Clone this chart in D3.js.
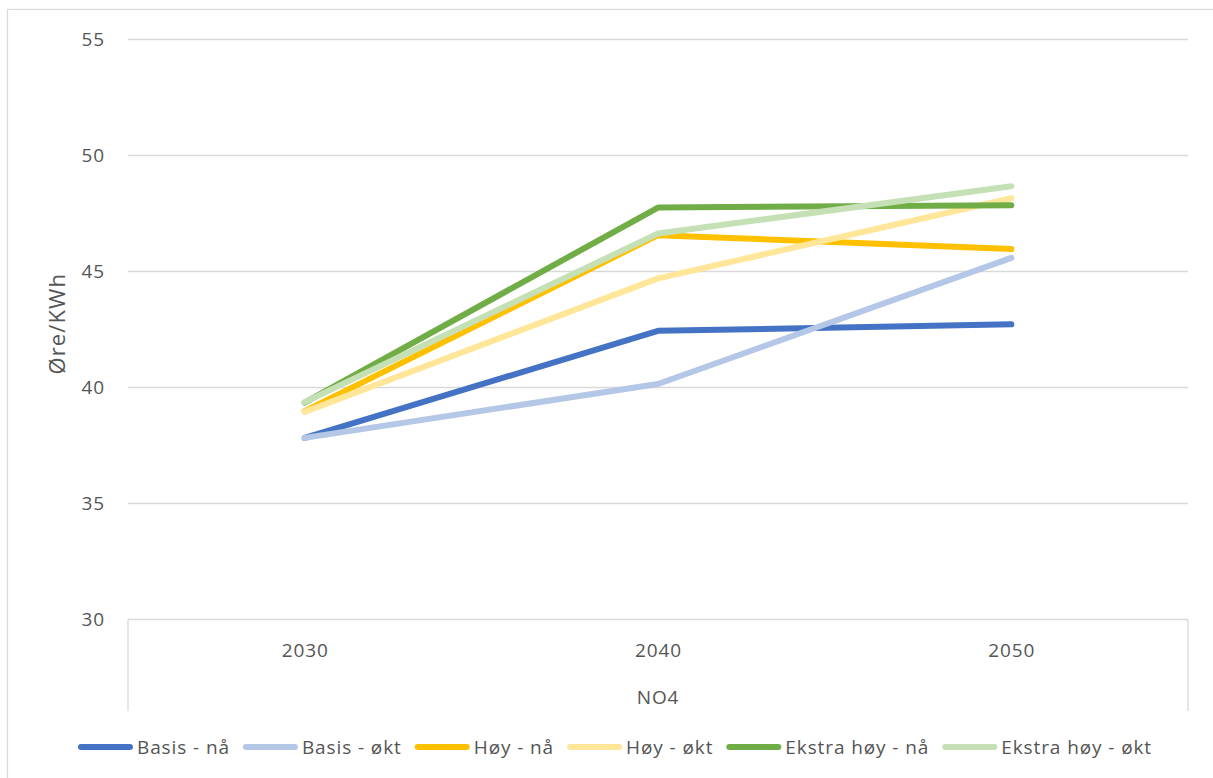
<!DOCTYPE html>
<html>
<head>
<meta charset="utf-8">
<script src="https://cdn.jsdelivr.net/npm/d3@7"></script>
<style>
  html, body { margin: 0; padding: 0; background: #fff; }
  svg { display: block; }
  text { font-family: "Open Sans", sans-serif; fill: #555555; }
</style>
</head>
<body>
<svg id="chart" width="1213" height="778"></svg>
<script>
// Price scenarios for NO4, øre/kWh
const years = ["2030", "2040", "2050"];
const seriesNames = ["Basis - nå", "Basis - økt", "Høy - nå", "Høy - økt", "Ekstra høy - nå", "Ekstra høy - økt"];
const basisNa = [37.8, 42.41, 42.69];
const basisOkt = [37.8, 40.12, 45.55];
const hoyNa = [38.95, 46.53, 45.93];
const hoyOkt = [38.92, 44.67, 48.12];
const ekstraHoyNa = [39.32, 47.72, 47.82];
const ekstraHoyOkt = [39.34, 46.6, 48.64];
const seriesColors = ["#4472C4", "#B4C7E7", "#FFC000", "#FFE699", "#70AD47", "#C5E0B4"];
const yTicks = [30, 35, 40, 45, 50, 55];
const groupLabel = "NO4";
const yTitle = "Øre/KWh";

const seriesValues = [basisNa, basisOkt, hoyNa, hoyOkt, ekstraHoyNa, ekstraHoyOkt];
const series = seriesNames.map((name, i) => ({ name, color: seriesColors[i], values: seriesValues[i] }));

const svg = d3.select("#chart");
const plot = { left: 128, right: 1188, top: 38.5, bottom: 619 };
const fontSize = 19;
const spacing = 0.9;

// outer chart border
svg.append("rect")
  .attr("x", 7.5).attr("y", 9.5)
  .attr("width", 1212).attr("height", 775)
  .attr("fill", "none").attr("stroke", "#d9d9d9").attr("stroke-width", 1.2);

const x = d3.scalePoint().domain(years).range([plot.left, plot.right]).padding(0.5);
const y = d3.scaleLinear().domain([30, 55]).range([plot.bottom, plot.top]);

// horizontal gridlines
svg.append("g")
  .selectAll("line")
  .data(yTicks.filter(t => t > 30))
  .join("line")
  .attr("x1", plot.left).attr("x2", plot.right)
  .attr("y1", d => Math.round(y(d)) + 0.5).attr("y2", d => Math.round(y(d)) + 0.5)
  .attr("stroke", "#d9d9d9").attr("stroke-width", 1.3);

// y tick labels
const yAxis = d3.axisLeft(y).tickValues(yTicks).tickSize(0).tickPadding(0);
const yg = svg.append("g").attr("transform", `translate(${plot.left - 23},0)`).call(yAxis);
yg.select(".domain").remove();
yg.selectAll("text")
  .attr("font-size", fontSize).attr("font-family", null)
  .attr("fill", "#555555").style("letter-spacing", spacing + "px")
  .attr("dy", "0.35em");

// category axis line and group separators
const axisY = Math.round(plot.bottom) + 0.5;
svg.append("line")
  .attr("x1", plot.left).attr("x2", plot.right)
  .attr("y1", axisY).attr("y2", axisY)
  .attr("stroke", "#d9d9d9").attr("stroke-width", 1.3);
[plot.left, plot.right].forEach(px => {
  svg.append("line")
    .attr("x1", px).attr("x2", px)
    .attr("y1", axisY).attr("y2", 711)
    .attr("stroke", "#d9d9d9").attr("stroke-width", 1.3);
});

// category labels
const xAxis = d3.axisBottom(x).tickSize(0).tickPadding(0);
const xg = svg.append("g").attr("transform", `translate(0,650)`).call(xAxis);
xg.select(".domain").remove();
xg.selectAll("text")
  .attr("font-size", fontSize).attr("font-family", null)
  .attr("fill", "#555555").style("letter-spacing", spacing + "px")
  .attr("y", 0).attr("dy", "0.35em");

// group label
svg.append("text")
  .attr("x", (plot.left + plot.right) / 2).attr("y", 697)
  .attr("dy", "0.35em").attr("text-anchor", "middle")
  .attr("font-size", fontSize).style("letter-spacing", spacing + "px")
  .text(groupLabel);

// y axis title
svg.append("text")
  .attr("transform", `translate(57,${(plot.top + plot.bottom) / 2 - 5}) rotate(-90)`)
  .attr("dy", "0.35em").attr("text-anchor", "middle")
  .attr("font-size", 22).style("letter-spacing", "1.1px")
  .text(yTitle);

// series lines
const line = d3.line().x((d, i) => x(years[i])).y(d => y(d));
svg.append("g")
  .selectAll("path")
  .data(series)
  .join("path")
  .attr("d", d => line(d.values))
  .attr("fill", "none")
  .attr("stroke", d => d.color)
  .attr("stroke-width", 6)
  .attr("stroke-linecap", "round")
  .attr("stroke-linejoin", "round");

// legend
const legendY = 747;
const lg = svg.append("g");
const items = lg.selectAll("g").data(series).join("g");
items.append("line")
  .attr("x1", 3).attr("x2", 52)
  .attr("y1", legendY).attr("y2", legendY)
  .attr("stroke", d => d.color).attr("stroke-width", 6)
  .attr("stroke-linecap", "round");
items.append("text")
  .attr("x", 59).attr("y", legendY).attr("dy", "0.35em")
  .attr("font-size", fontSize).style("letter-spacing", spacing + "px")
  .text(d => d.name);
let cursor = 0;
const offsets = [];
items.each(function() {
  const w = d3.select(this).select("text").node().getComputedTextLength();
  offsets.push(cursor);
  cursor += 59 + w + 13;
});
const total = cursor - 13;
const start = 81 + ((1149 - 81) - total) / 2;
items.attr("transform", (d, i) => `translate(${start + offsets[i]},0)`);
</script>
</body>
</html>
